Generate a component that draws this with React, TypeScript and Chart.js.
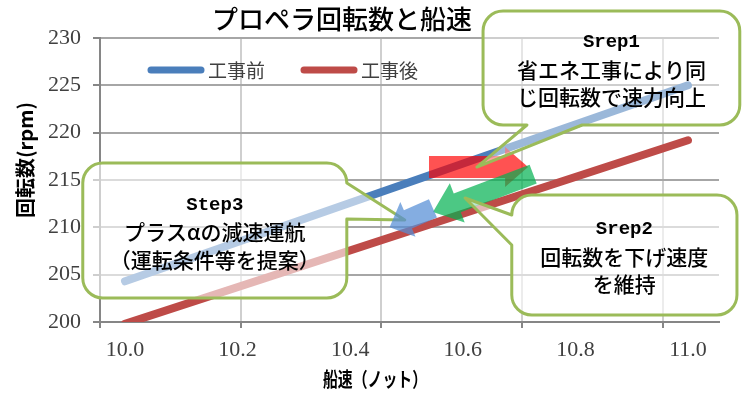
import { useEffect, useRef } from 'react';
import { Chart, registerables } from 'chart.js';

Chart.register(...registerables);

// ---------- data ----------
const TITLE = 'プロペラ回転数と船速';
const X_TITLE = '船速（ノット）';
const Y_TITLE = '回転数(rpm)';
const SERIES_LABELS = ['工事前', '工事後'];
const SERIES_COLORS = ['#4a7ebb', '#be4b48'];

const BEFORE_X = [10.0, 11.0];
const BEFORE_Y = [204.3, 225.0];
const AFTER_X = [10.0, 11.0];
const AFTER_Y = [199.8, 219.2];

const X_TICK_LABELS = [10.0, 10.2, 10.4, 10.6, 10.8, 11.0];
const X_GRID = [9.9556, 10.2056, 10.4556, 10.7056, 10.9556];
const X_MIN = 9.9556;
const X_MAX = 11.0551;
const Y_MIN = 200;
const Y_MAX = 230;
const Y_STEP = 5;

// annotations (in data units)
const CALLOUT_1_TEXT = ['Srep1', '省エネ工事により同', 'じ回転数で速力向上'];
const CALLOUT_2_TEXT = ['Srep2', '回転数を下げ速度', 'を維持'];
const CALLOUT_3_TEXT = ['Step3', 'プラスαの減速運航', '（運転条件等を提案）'];

const CALLOUT_1 = { x0: 10.636, x1: 11.092, yTop: 232.85, yBottom: 220.81, edge: 'bottom', a: 10.714, b: 10.812, tipX: 10.625, tipY: 216.37, alpha: 0.45 };
const CALLOUT_2 = { x0: 10.687, x1: 11.087, yTop: 213.42, yBottom: 200.74, edge: 'left', a: 211.3, b: 208.13, tipX: 10.604, tipY: 213.1, alpha: 0.6 };
const CALLOUT_3 = { x0: 9.925, x1: 10.394, yTop: 216.8, yBottom: 202.54, edge: 'right', a: 214.68, b: 210.88, tipX: 10.497, tipY: 210.77, alpha: 0.6 };

const ARROW_RED = { tailX: 10.54, tailY: 216.37, tipX: 10.716, tipY: 216.37 };
const ARROW_GREEN = { tailX: 10.725, tailY: 215.63, tipX: 10.547, tipY: 211.62 };
const ARROW_BLUE = { tailX: 10.547, tailY: 212.0, tipX: 10.47, tipY: 210.0 };

// ---------- styles ----------
const SERIF = '"Liberation Serif", "Noto Sans CJK JP", serif';
const JP = '"Noto Sans CJK JP", sans-serif';
const MONO = '"Liberation Mono", "DejaVu Sans Mono", monospace';
const GREEN_BORDER = '#9bbb59';

function drawArrow(ctx: CanvasRenderingContext2D, tx: number, ty: number, hx: number, hy: number, bodyHalf: number, headHalf: number, headLen: number, color: string) {
  const dx = hx - tx;
  const dy = hy - ty;
  const len = Math.hypot(dx, dy);
  const ux = dx / len;
  const uy = dy / len;
  const nx = -uy;
  const ny = ux;
  const bx = hx - ux * headLen;
  const by = hy - uy * headLen;
  ctx.save();
  ctx.fillStyle = color;
  ctx.beginPath();
  ctx.moveTo(tx + nx * bodyHalf, ty + ny * bodyHalf);
  ctx.lineTo(bx + nx * bodyHalf, by + ny * bodyHalf);
  ctx.lineTo(bx + nx * headHalf, by + ny * headHalf);
  ctx.lineTo(hx, hy);
  ctx.lineTo(bx - nx * headHalf, by - ny * headHalf);
  ctx.lineTo(bx - nx * bodyHalf, by - ny * bodyHalf);
  ctx.lineTo(tx - nx * bodyHalf, ty - ny * bodyHalf);
  ctx.closePath();
  ctx.fill();
  ctx.restore();
}

function drawCallout(chart: any, c: any, lines: string[]) {
  const ctx: CanvasRenderingContext2D = chart.ctx;
  const xs = chart.scales.x;
  const ys = chart.scales.y;
  const x0 = xs.getPixelForValue(c.x0);
  const x1 = xs.getPixelForValue(c.x1);
  const y0 = ys.getPixelForValue(c.yTop);
  const y1 = ys.getPixelForValue(c.yBottom);
  const tx = xs.getPixelForValue(c.tipX);
  const ty = ys.getPixelForValue(c.tipY);
  let a: number;
  let b: number;
  if (c.edge === 'bottom') {
    const pa = xs.getPixelForValue(c.a);
    const pb = xs.getPixelForValue(c.b);
    a = Math.min(pa, pb);
    b = Math.max(pa, pb);
  } else {
    const pa = ys.getPixelForValue(c.a);
    const pb = ys.getPixelForValue(c.b);
    a = Math.min(pa, pb);
    b = Math.max(pa, pb);
  }
  const r = 20;
  ctx.save();
  ctx.beginPath();
  ctx.moveTo(x0 + r, y0);
  ctx.lineTo(x1 - r, y0);
  ctx.arcTo(x1, y0, x1, y0 + r, r);
  if (c.edge === 'right') {
    ctx.lineTo(x1, a);
    ctx.lineTo(tx, ty);
    ctx.lineTo(x1, b);
  }
  ctx.lineTo(x1, y1 - r);
  ctx.arcTo(x1, y1, x1 - r, y1, r);
  if (c.edge === 'bottom') {
    ctx.lineTo(b, y1);
    ctx.lineTo(tx, ty);
    ctx.lineTo(a, y1);
  }
  ctx.lineTo(x0 + r, y1);
  ctx.arcTo(x0, y1, x0, y1 - r, r);
  if (c.edge === 'left') {
    ctx.lineTo(x0, b);
    ctx.lineTo(tx, ty);
    ctx.lineTo(x0, a);
  }
  ctx.lineTo(x0, y0 + r);
  ctx.arcTo(x0, y0, x0 + r, y0, r);
  ctx.closePath();
  ctx.fillStyle = `rgba(255,255,255,${c.alpha})`;
  ctx.fill();
  ctx.lineWidth = 3;
  ctx.lineJoin = 'round';
  ctx.strokeStyle = GREEN_BORDER;
  ctx.stroke();

  const cx = (x0 + x1) / 2;
  const cy = (y0 + y1) / 2 + 2;
  const lh = 27.5;
  ctx.fillStyle = '#000';
  ctx.textAlign = 'center';
  ctx.textBaseline = 'middle';
  lines.forEach((t, i) => {
    ctx.font = i === 0 ? `bold 19px ${MONO}` : `500 21px ${JP}`;
    ctx.fillText(t, cx, cy + (i - (lines.length - 1) / 2) * lh);
  });
  ctx.restore();
}

const overlayPlugin = {
  id: 'overlay',
  afterDatasetsDraw(chart: any) {
    const ctx: CanvasRenderingContext2D = chart.ctx;
    const xs = chart.scales.x;
    const ys = chart.scales.y;
    const P = (v: any) => [xs.getPixelForValue(v.tailX), ys.getPixelForValue(v.tailY), xs.getPixelForValue(v.tipX), ys.getPixelForValue(v.tipY)];
    let p = P(ARROW_RED);
    drawArrow(ctx, p[0], p[1], p[2], p[3], 11, 20, 23, 'rgba(255,0,0,0.68)');
    p = P(ARROW_GREEN);
    drawArrow(ctx, p[0], p[1], p[2], p[3], 10, 21, 26, 'rgba(0,176,80,0.7)');
    drawCallout(chart, CALLOUT_2, CALLOUT_2_TEXT);
    drawCallout(chart, CALLOUT_1, CALLOUT_1_TEXT);
    drawCallout(chart, CALLOUT_3, CALLOUT_3_TEXT);
    p = P(ARROW_BLUE);
    drawArrow(ctx, p[0], p[1], p[2], p[3], 10, 19, 20, 'rgba(85,142,213,0.72)');
  },
  afterDraw(chart: any) {
    const ctx: CanvasRenderingContext2D = chart.ctx;
    ctx.save();
    // title
    ctx.fillStyle = '#000';
    ctx.textAlign = 'center';
    ctx.textBaseline = 'middle';
    ctx.font = `500 26px ${JP}`;
    ctx.fillText(TITLE, 342, 19);
    // legend
    const items = [
      { x: 151, text: chart.data.datasets[0].label, color: chart.data.datasets[0].borderColor },
      { x: 304, text: chart.data.datasets[1].label, color: chart.data.datasets[1].borderColor },
    ];
    items.forEach((it) => {
      ctx.beginPath();
      ctx.lineCap = 'round';
      ctx.lineWidth = 7;
      ctx.strokeStyle = it.color;
      ctx.moveTo(it.x, 70);
      ctx.lineTo(it.x + 50, 70);
      ctx.stroke();
      ctx.fillStyle = '#404040';
      ctx.textAlign = 'left';
      ctx.font = `19px ${JP}`;
      ctx.fillText(it.text, it.x + 57, 71);
    });
    // x title
    ctx.fillStyle = '#000';
    ctx.textAlign = 'center';
    ctx.font = `bold 20px ${JP}`;
    ctx.fillText(X_TITLE, 375, 379, 104);
    // y title
    ctx.translate(25, 160);
    ctx.rotate(-Math.PI / 2);
    ctx.fillText(Y_TITLE, 0, 0, 116);
    ctx.restore();
  },
};

export default function App() {
  const ref = useRef<HTMLCanvasElement>(null);
  useEffect(() => {
    const canvas = ref.current!;
    const chart = new Chart(canvas, {
      type: 'line',
      data: {
        datasets: [
          {
            label: SERIES_LABELS[0],
            data: BEFORE_X.map((x, i) => ({ x, y: BEFORE_Y[i] })),
            borderColor: SERIES_COLORS[0],
            backgroundColor: SERIES_COLORS[0],
            borderWidth: 8,
            borderCapStyle: 'round',
            pointRadius: 0,
            tension: 0,
            clip: 0,
          } as any,
          {
            label: SERIES_LABELS[1],
            data: AFTER_X.map((x, i) => ({ x, y: AFTER_Y[i] })),
            borderColor: SERIES_COLORS[1],
            backgroundColor: SERIES_COLORS[1],
            borderWidth: 8,
            borderCapStyle: 'round',
            pointRadius: 0,
            tension: 0,
            clip: 0,
          } as any,
        ],
      },
      options: {
        animation: false,
        responsive: false,
        devicePixelRatio: 1,
        layout: { padding: { top: 38, right: 30, left: 0, bottom: 0 } },
        plugins: { legend: { display: false }, title: { display: false }, tooltip: { enabled: false } },
        scales: {
          x: {
            type: 'linear',
            min: X_MIN,
            max: X_MAX,
            afterBuildTicks: (scale: any) => {
              const t = [
                ...X_GRID.map((v) => ({ value: v, grid: true })),
                ...X_TICK_LABELS.map((v) => ({ value: v, grid: false })),
              ];
              t.sort((p, q) => p.value - q.value);
              scale.ticks = t;
            },
            afterFit: (scale: any) => {
              scale.height = 74;
            },
            ticks: {
              autoSkip: false,
              maxRotation: 0,
              minRotation: 0,
              padding: 9,
              color: '#404040',
              font: { family: SERIF, size: 22 },
              callback: (value: any, index: number, ticks: any[]) => (ticks[index].grid ? '' : Number(value).toFixed(1)),
            },
            grid: {
              color: (c: any) => (c.tick && c.tick.grid ? '#cfcfcf' : 'rgba(0,0,0,0)'),
              tickColor: (c: any) => (c.tick && c.tick.grid ? '#868686' : 'rgba(0,0,0,0)'),
              lineWidth: 2,
              tickLength: 6,
            },
            border: { color: '#868686', width: 2 },
          },
          y: {
            min: Y_MIN,
            max: Y_MAX,
            afterFit: (scale: any) => {
              scale.width = 100;
            },
            ticks: {
              stepSize: Y_STEP,
              padding: 12,
              color: '#404040',
              font: { family: SERIF, size: 22 },
            },
            grid: { color: '#a6a6a6', lineWidth: 2, tickLength: 7, tickColor: '#868686' },
            border: { color: '#868686', width: 2 },
          },
        },
      } as any,
      plugins: [overlayPlugin],
    });
    return () => chart.destroy();
  }, []);
  return (
    <div style={{ position: 'fixed', left: 0, top: 0, width: 749, height: 396, background: '#fff' }}>
      <canvas ref={ref} width={749} height={396} style={{ display: 'block', width: 749, height: 396 }} />
    </div>
  );
}
